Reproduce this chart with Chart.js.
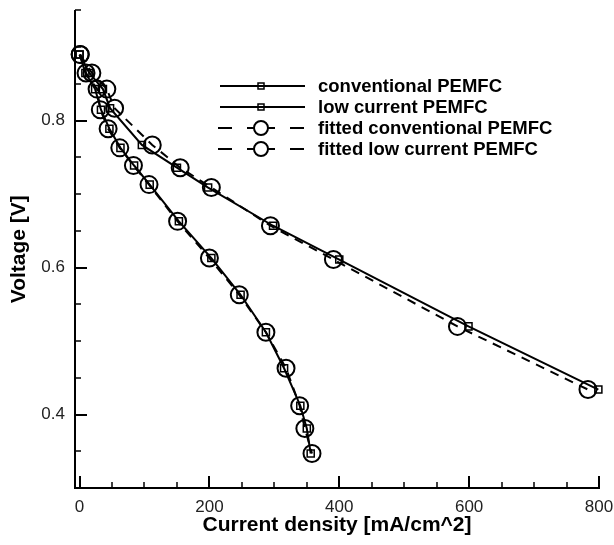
<!DOCTYPE html>
<html>
<head>
<meta charset="utf-8">
<script src="https://cdn.jsdelivr.net/npm/chart.js@4.4.1/dist/chart.umd.min.js"></script>
<style>
html,body{margin:0;padding:0;background:#fff;}
#wrap{width:614px;height:545px;}
</style>
</head>
<body>
<div id="wrap"><canvas id="myChart" width="614" height="545"></canvas></div>
<script>
'use strict';
// conventional cell: measured and fitted current at each voltage
const convVoltage=[0.890,0.865,0.843,0.817,0.767,0.736,0.709,0.657,0.611,0.520,0.434];
const convCurrent=[0,15,36,47,96,150,198,298,400,599,799];
const convFitCurrent=[1,19,42,54,112,155,203,294,391,582,783];

// low current cell
const lowVoltage=[0.890,0.865,0.843,0.815,0.789,0.763,0.739,0.713,0.663,0.613,0.563,0.512,0.463,0.412,0.381,0.347];
const lowCurrent=[0,9,24,33,46,63,84,108,153,203,248,287,315,340,350,356];
const lowFitCurrent=[1,10,27,32,44,62,83,107,151,200,246,287,318,339,347,358];

const seriesNames=['conventional PEMFC','low current PEMFC','fitted conventional PEMFC','fitted low current PEMFC'];
const xTickLabels=[0,200,400,600,800];
const yTickLabels=[0.4,0.6,0.8];

const fontFamily='"Liberation Sans", Arial, Helvetica, sans-serif';

function toPoints(xs,ys){
  let pts=[];
  for (let i = 0; i < xs.length; i++) {
    pts.push({x:xs[i],y:ys[i]});
  }
  return pts;
}

function makeSet(name,pts,fitted){
  return {
    label:name,
    data:pts,
    showLine:true,
    borderColor:'#000',
    borderWidth:2,
    borderDash:fitted?[9,7]:[],
    backgroundColor:'rgba(0,0,0,0)',
    pointStyle:fitted?'circle':'rect',
    pointRadius:fitted?8.5:5,
    pointBorderWidth:fitted?2:1.5,
    pointBorderColor:'#000',
    pointBackgroundColor:'rgba(0,0,0,0)',
    tension:0,
    clip:false
  };
}

// ticks inside the plot, majors longer than minors
const inwardTicks={
  id:'inwardTicks',
  afterDatasetsDraw(chart){
    let ctx=chart.ctx;
    let xs=chart.scales.x, ys=chart.scales.y;
    let area=chart.chartArea;
    ctx.save();
    ctx.strokeStyle='#000';
    for (let v = 0; v <= 800; v += 50) {
      let major=v%200===0;
      let px=Math.round(xs.getPixelForValue(v));
      ctx.lineWidth=major?2:1.5;
      ctx.beginPath();
      ctx.moveTo(px,area.bottom);
      ctx.lineTo(px,area.bottom-(major?12:6));
      ctx.stroke();
    }
    for (let k = 6; k <= 19; k++) {
      let v=k*0.05;
      let major=k%4===0;
      let py=Math.round(ys.getPixelForValue(v));
      ctx.lineWidth=major?2:1.5;
      ctx.beginPath();
      ctx.moveTo(area.left,py);
      ctx.lineTo(area.left+(major?12:6),py);
      ctx.stroke();
    }
    ctx.restore();
  }
};

// legend: short line with the marker in the middle
const sampleLegend={
  id:'sampleLegend',
  afterDraw(chart){
    let ctx=chart.ctx;
    let cx=261;
    ctx.save();
    chart.data.datasets.forEach((ds,i)=>{
      let y=86+i*21;
      ctx.strokeStyle='#000';
      ctx.lineWidth=2;
      ctx.beginPath();
      if (ds.pointStyle==='circle'){
        [[-43,-29],[-14,-7],[7,14],[29,43]].forEach(s=>{
          ctx.moveTo(cx+s[0],y);
          ctx.lineTo(cx+s[1],y);
        });
        ctx.stroke();
        ctx.beginPath();
        ctx.arc(cx,y,7,0,Math.PI*2);
        ctx.stroke();
      } else {
        ctx.moveTo(cx-41,y);
        ctx.lineTo(cx+44,y);
        ctx.stroke();
        ctx.lineWidth=1.5;
        ctx.strokeRect(cx-3,y-3,6,6);
      }
      ctx.fillStyle='#000';
      ctx.font='bold 18.5px '+fontFamily;
      ctx.textAlign='left';
      ctx.textBaseline='middle';
      ctx.fillText(ds.label,318,y+1);
    });
    ctx.restore();
  }
};

let ctx=document.getElementById('myChart').getContext('2d');
let chart=new Chart(ctx,{
  type:'scatter',
  data:{
    datasets:[
      makeSet(seriesNames[0],toPoints(convCurrent,convVoltage),false),
      makeSet(seriesNames[1],toPoints(lowCurrent,lowVoltage),false),
      makeSet(seriesNames[2],toPoints(convFitCurrent,convVoltage),true),
      makeSet(seriesNames[3],toPoints(lowFitCurrent,lowVoltage),true)
    ]
  },
  options:{
    responsive:false,
    animation:false,
    devicePixelRatio:1,
    layout:{padding:{top:10,right:15,left:0,bottom:0}},
    plugins:{legend:{display:false},tooltip:{enabled:false}},
    scales:{
      x:{
        type:'linear',min:-7,max:800,
        afterFit(s){s.height=57;s.paddingLeft=0;s.paddingRight=0;},
        afterBuildTicks(s){s.ticks=xTickLabels.map(v=>({value:v}));},
        grid:{display:false,drawTicks:false},
        border:{display:true,color:'#000',width:2},
        ticks:{color:'#222',padding:9,maxRotation:0,autoSkip:false,font:{family:fontFamily,size:17}},
        title:{display:true,text:'Current density [mA/cm^2]',color:'#000',
          font:{family:fontFamily,size:21,weight:'bold'},padding:{top:0,bottom:7}}
      },
      y:{
        type:'linear',min:0.3,max:0.95,
        afterFit(s){s.width=75;s.paddingTop=0;s.paddingBottom=0;},
        afterBuildTicks(s){s.ticks=yTickLabels.map(v=>({value:v}));},
        grid:{display:false,drawTicks:false},
        border:{display:true,color:'#000',width:2},
        ticks:{color:'#222',padding:10,autoSkip:false,font:{family:fontFamily,size:17},
          callback:v=>v.toFixed(1)},
        title:{display:true,text:'Voltage [V]',color:'#000',
          font:{family:fontFamily,size:21,weight:'bold'},padding:{top:7,bottom:0}}
      }
    }
  },
  plugins:[inwardTicks,sampleLegend]
});
</script>
</body>
</html>
